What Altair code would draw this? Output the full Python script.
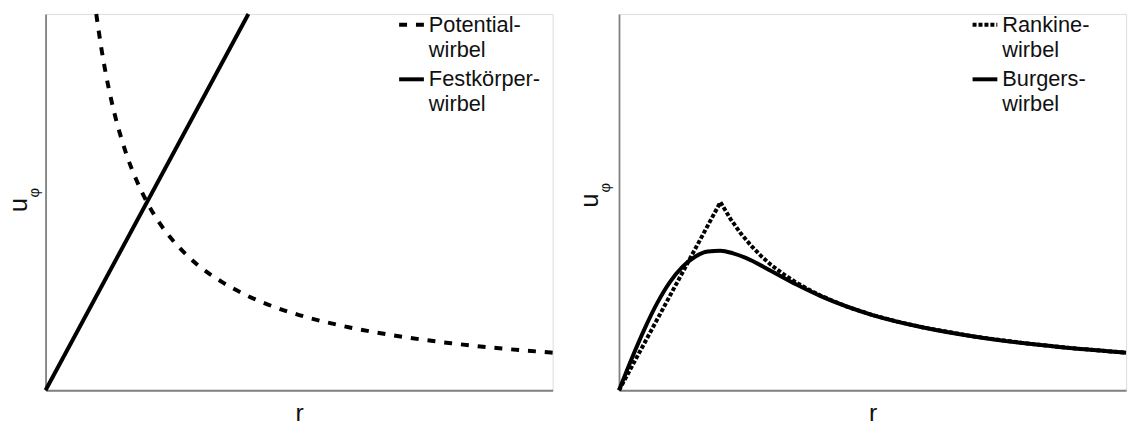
import altair as alt
import pandas as pd

# ---- data (r and u in arbitrary units 0..10) ----
pot_r = [1.0, 1.1, 1.2, 1.3, 1.4, 1.5, 1.6, 1.8, 2.0, 2.25, 2.5, 2.75, 3.0, 3.5, 4.0, 4.5, 5.0, 6.0, 7.0, 8.0, 9.0, 10.0]
pot_u = [10.0, 9.09, 8.33, 7.69, 7.14, 6.67, 6.25, 5.56, 5.0, 4.44, 4.0, 3.64, 3.33, 2.86, 2.5, 2.22, 2.0, 1.67, 1.43, 1.25, 1.11, 1.0]

solid_r = [0.0, 4.0]
solid_u = [0.0, 10.0]

rank_r = [0.0, 2.0, 2.2, 2.4, 2.6, 2.8, 3.0, 3.25, 3.5, 3.75, 4.0, 4.5, 5.0, 5.5, 6.0, 7.0, 8.0, 9.0, 10.0]
rank_u = [0.0, 5.0, 4.55, 4.17, 3.85, 3.57, 3.33, 3.08, 2.86, 2.67, 2.5, 2.22, 2.0, 1.82, 1.67, 1.43, 1.25, 1.11, 1.0]

burg_r = [0.0, 0.25, 0.5, 0.75, 1.0, 1.25, 1.5, 1.75, 2.0, 2.25, 2.5, 3.0, 3.5, 4.0, 5.0, 6.0, 7.0, 8.0, 9.0, 10.0]
burg_u = [0.0, 0.84, 1.62, 2.31, 2.87, 3.28, 3.55, 3.69, 3.71, 3.64, 3.52, 3.17, 2.81, 2.49, 2.0, 1.67, 1.43, 1.25, 1.11, 1.0]

left_labels = ["Potential-\nwirbel", "Festkörper-\nwirbel"]
right_labels = ["Rankine-\nwirbel", "Burgers-\nwirbel"]

x_title = "r"
y_title = "u"
y_sub = "φ"

FONT = "Liberation Sans"
W, H = 512, 380
DASH = [8, 9]
DOT = [4, 2]
LW = 4

xs = alt.Scale(domain=[0, 10], nice=False)
ys = alt.Scale(domain=[0, 10], nice=False)


def x_axis():
    return alt.Axis(title=x_title, labels=False, ticks=False, grid=False,
                    domainColor="#808080", domainWidth=2,
                    titleFont=FONT, titleFontSize=25, titleFontWeight="normal",
                    titleColor="#111111", titleBaseline="alphabetic", titleY=31)


def y_axis(tx, ty):
    return alt.Axis(title=y_title, labels=False, ticks=False, grid=False,
                    domainColor="#808080", domainWidth=1.8,
                    titleFont=FONT, titleFontSize=26, titleFontWeight="normal",
                    titleColor="#111111", titleAngle=270, titleAlign="center",
                    titleBaseline="alphabetic", titleX=tx, titleY=ty)


def series(r, u, dash, interp, tx, ty):
    df = pd.DataFrame({"r": r, "u": u})
    kw = dict(color="black", strokeWidth=LW, interpolate=interp, strokeCap="butt")
    if dash:
        kw["strokeDash"] = dash
    return alt.Chart(df).mark_line(**kw).encode(
        x=alt.X("r:Q", scale=xs, axis=x_axis()),
        y=alt.Y("u:Q", scale=ys, axis=y_axis(tx, ty)),
        order="r:Q",
    )


def legend_item(label, dash, ry, ty):
    sym_kw = dict(color="black", strokeWidth=LW, strokeCap="butt")
    if dash:
        sym_kw["strokeDash"] = dash
    sym = alt.Chart(pd.DataFrame({"label": [label]})).mark_rule(**sym_kw).encode(
        x=alt.value(357), x2=alt.value(382), y=alt.value(ry))
    txt = alt.Chart(pd.DataFrame({"label": [label]})).mark_text(
        align="left", baseline="alphabetic", font=FONT, fontSize=22,
        lineBreak="\n", lineHeight=25, color="#111111").encode(
        x=alt.value(387), y=alt.value(ty), text="label:N")
    return sym + txt


def phi(px, py):
    return alt.Chart(pd.DataFrame({"s": [y_sub]})).mark_text(
        angle=270, align="center", baseline="middle", font=FONT, fontSize=15,
        color="#111111").encode(x=alt.value(px), y=alt.value(py), text="s:N")


left = alt.layer(
    series(pot_r, pot_u, DASH, "monotone", -19, 192.5),
    series(solid_r, solid_u, None, "linear", -19, 192.5),
    legend_item(left_labels[0], DASH, 11, 18),
    legend_item(left_labels[1], None, 66, 73),
    phi(-11.5, 180.5),
).properties(width=W, height=H)

right = alt.layer(
    series(rank_r, rank_u, DOT, "linear", -22, 188),
    series(burg_r, burg_u, None, "monotone", -22, 188),
    legend_item(right_labels[0], DOT, 11, 18),
    legend_item(right_labels[1], None, 66, 73),
    phi(-14.5, 175.5),
).properties(width=W, height=H)

chart = alt.hconcat(left, right, spacing=67, bounds="flush").properties(
    padding={"left": 5, "top": 3, "right": 0, "bottom": 0}
).configure_view(strokeWidth=0).configure(background="white")

chart.save("out.html", embed_options={"renderer": "svg", "actions": False})
